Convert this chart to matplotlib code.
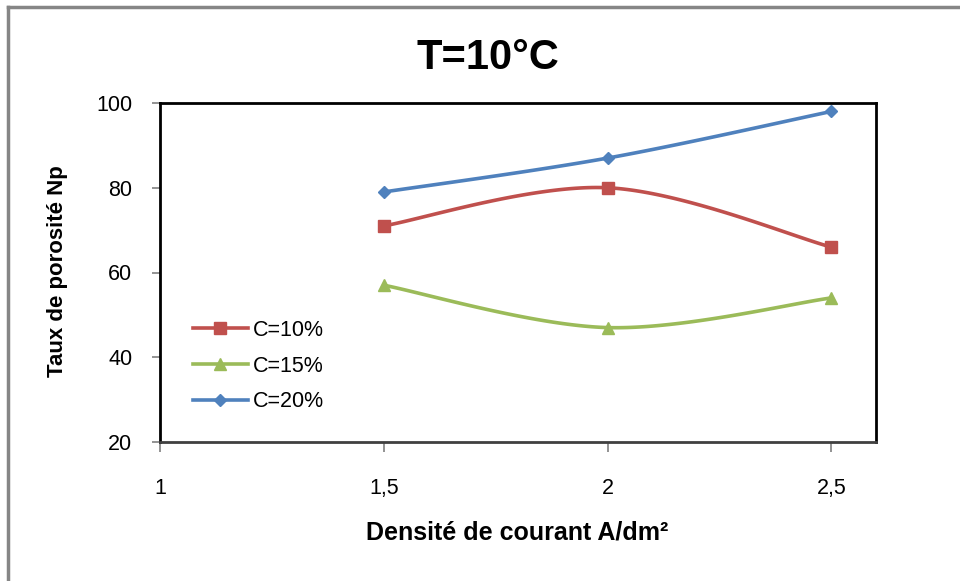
import numpy as np
import matplotlib
matplotlib.use("Agg")
import matplotlib.pyplot as plt
from matplotlib.lines import Line2D

# Data
density = [1.5, 2.0, 2.5]
c10 = [71, 80, 66]
c15 = [57, 47, 54]
c20 = [79, 87, 98]
series_labels = ["C=10%", "C=15%", "C=20%"]
x_ticks = [1, 1.5, 2, 2.5]
x_tick_labels = ["1", "1,5", "2", "2,5"]
y_ticks = [20, 40, 60, 80, 100]


def smooth(xs, ys, n=60):
    """Bezier smoothing through the points (Catmull-Rom style control points)."""
    p = np.column_stack([xs, ys]).astype(float)
    ext = np.vstack([p[0], p, p[-1]])
    out = []
    t = np.linspace(0, 1, n)[:, None]
    for i in range(len(p) - 1):
        p0, p1, p2, p3 = ext[i], ext[i + 1], ext[i + 2], ext[i + 3]
        c1 = p1 + (p2 - p0) / 6.0
        c2 = p2 - (p3 - p1) / 6.0
        seg = ((1 - t) ** 3) * p1 + 3 * ((1 - t) ** 2) * t * c1 + 3 * (1 - t) * t ** 2 * c2 + t ** 3 * p2
        out.append(seg if i == 0 else seg[1:])
    s = np.vstack(out)
    return s[:, 0], s[:, 1]


fig = plt.figure(figsize=(9.6, 5.81), dpi=100)
ax = fig.add_axes([160 / 960, 1 - 442 / 581, 716 / 960, 339 / 581])

styles = [
    (c10, "#C0504D", "s", 9),
    (c15, "#9BBB59", "^", 8),
    (c20, "#4F81BD", "D", 6.5),
]
handles = []
for (vals, col, mk, ms), lab in zip(styles, series_labels):
    sx, sy = smooth(density, vals)
    ax.plot(sx, sy, color=col, lw=2.6, solid_capstyle="round", zorder=2)
    ax.plot(density, vals, linestyle="none", marker=mk, ms=ms, color=col,
            markeredgecolor=col, zorder=3)
    handles.append(Line2D([], [], color=col, lw=2.6, marker=mk, ms=ms, label=lab))

ax.set_xlim(1, 2.6)
ax.set_ylim(20, 100)
ax.set_xticks(x_ticks)
ax.set_xticklabels(x_tick_labels)
ax.set_yticks(y_ticks)

for lbl in ax.get_xticklabels() + ax.get_yticklabels():
    lbl.set_family(["Liberation Sans", "DejaVu Sans"])
    lbl.set_fontsize(15.5)

ax.tick_params(axis="x", direction="out", length=7, width=1.2, color="#808080",
               pad=19, labelcolor="black")
ax.tick_params(axis="y", direction="out", length=6, width=1.2, color="#808080",
               pad=14, labelcolor="black")

for side in ["left", "top", "right"]:
    ax.spines[side].set_color("black")
    ax.spines[side].set_linewidth(2)
ax.spines["bottom"].set_color("#404040")
ax.spines["bottom"].set_linewidth(2)

leg = ax.legend(handles=handles, loc="center left",
                bbox_to_anchor=((193 - 160) / 716, (442 - 366) / 339),
                frameon=False, fontsize=15.5, handlelength=2.55, handletextpad=0.25,
                labelspacing=0.68, borderaxespad=0, borderpad=0)
for t in leg.get_texts():
    t.set_family(["Liberation Sans", "DejaVu Sans"])

fig.text(488 / 960, 1 - 58 / 581, "T=10°C", ha="center", va="center",
         fontsize=30, fontweight="bold", family=["Liberation Sans", "DejaVu Sans"])
fig.text(517 / 960, 1 - 533 / 581, "Densité de courant A/dm²", ha="center", va="center",
         fontsize=18, fontweight="bold", family=["Liberation Sans", "DejaVu Sans"])
fig.text(57 / 960, 1 - 271 / 581, "Taux de porosité Np", ha="center", va="center",
         rotation=90, fontsize=16, fontweight="bold",
         family=["Liberation Sans", "DejaVu Sans"])

# Outer chart frame
frame_col = "#868686"
fig.add_artist(Line2D([8 / 960, 8 / 960], [0, 1 - 7 / 581], color=frame_col, lw=2.5,
                      transform=fig.transFigure))
fig.add_artist(Line2D([8 / 960, 1], [1 - 7 / 581, 1 - 7 / 581], color=frame_col, lw=2.5,
                      transform=fig.transFigure))

fig.savefig("out.png", dpi=100)
